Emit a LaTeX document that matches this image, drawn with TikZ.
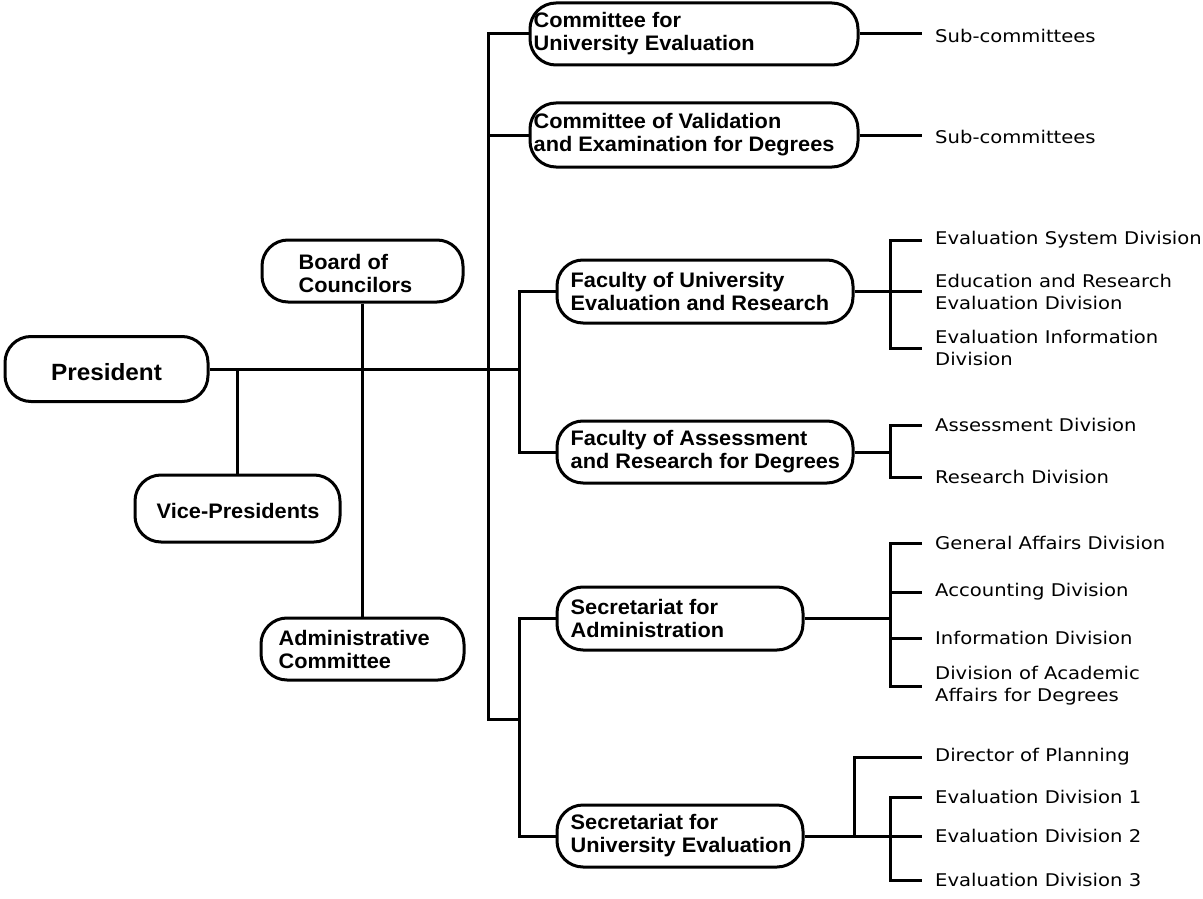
\documentclass[tikz,border=0pt]{standalone}
\usepackage{fontspec}
\newfontfamily\bfam[FakeStretch=1.035]{Liberation Sans Bold}
\newfontfamily\lfam[FakeStretch=1.12]{DejaVu Sans}
\tikzset{
  box/.style={draw, line width=3pt, rounded corners=26pt, inner sep=0pt},
  btext/.style={font=\bfam\fontsize{21}{23}\selectfont, align=left, inner sep=0pt, anchor=west},
  lab/.style={font=\lfam\fontsize{17.5}{22}\selectfont, align=left, inner sep=0pt, anchor=west},
  conn/.style={line width=3pt},
}
\begin{document}
\begin{tikzpicture}[x=1pt,y=-1pt]
\fill[white] (0,0) rectangle (1203,899);
\useasboundingbox (0,0) rectangle (1203,899);

% left boxes
\node[box, minimum width=203pt, minimum height=65pt] (pres) at (106.5,369) {};
\node[btext, font=\bfam\fontsize{23.5}{26}\selectfont, anchor=center] (presT) at ([yshift=-3pt]pres.center) {President};
\node[box, minimum width=201pt, minimum height=62pt] (bc) at (362.5,271) {};
\node[btext] (bcT) at ([xshift=38pt,yshift=-2pt]bc.west) {Board of\\Councilors};
\node[box, minimum width=205pt, minimum height=67pt] (vp) at (237.5,508.5) {};
\node[btext] (vpT) at ([xshift=23pt,yshift=-2pt]vp.west) {Vice-Presidents};
\node[box, minimum width=203pt, minimum height=62pt] (adm) at (362.5,649) {};
\node[btext] (admT) at ([xshift=19pt]adm.west) {Administrative\\Committee};

% middle boxes
\node[box, minimum width=328pt, minimum height=62pt] (cue) at (694,34) {};
\node[btext] (cueT) at ([xshift=5pt]cue.west) {Committee for\\University Evaluation};
\node[box, minimum width=328pt, minimum height=64pt] (cve) at (694,135) {};
\node[btext] (cveT) at ([xshift=5pt]cve.west) {Committee of Validation\\and Examination for Degrees};
\node[box, minimum width=296pt, minimum height=63pt] (fuer) at (705,291.5) {};
\node[btext] (fuerT) at ([xshift=15pt]fuer.west) {Faculty of University\\Evaluation and Research};
\node[box, minimum width=296pt, minimum height=62pt] (fard) at (705,452) {};
\node[btext] (fardT) at ([xshift=15pt]fard.west) {Faculty of Assessment\\and Research for Degrees};
\node[box, minimum width=246pt, minimum height=63pt] (sa) at (680,618.5) {};
\node[btext] (saT) at ([xshift=15pt]sa.west) {Secretariat for\\Administration};
\node[box, minimum width=246pt, minimum height=62pt] (sue) at (680,836) {};
\node[btext] (sueT) at ([xshift=15pt]sue.west) {Secretariat for\\University Evaluation};

% right labels
\node[lab] (s1) at (935,36) {Sub-committees};
\node[lab] (s2) at (935,137) {Sub-committees};
\node[lab] (l1) at (935,240) {Evaluation System Division};
\node[lab] (l2) at (935,291.5) {Education and Research\\Evaluation Division};
\node[lab] (l3) at (935,348) {Evaluation Information\\Division};
\node[lab] (a1) at (935,425) {Assessment Division};
\node[lab] (a2) at (935,477) {Research Division};
\node[lab] (g1) at (935,543) {General Affairs Division};
\node[lab] (g2) at (935,592) {Accounting Division};
\node[lab] (g3) at (935,638) {Information Division};
\node[lab] (g4) at (935,686) {Division of Academic\\Affairs for Degrees};
\node[lab] (d0) at (935,757) {Director of Planning};
\node[lab] (e1) at (935,797) {Evaluation Division 1};
\node[lab] (e2) at (935,836) {Evaluation Division 2};
\node[lab] (e3) at (935,880) {Evaluation Division 3};

% helper coordinates
\coordinate (j1) at (519,369);
\coordinate (b0) at (488,719);
\coordinate (j2) at (519,719);
\coordinate (xr) at (890,0);
\coordinate (xd) at (854,0);

% left connectors
\draw[conn] (pres.east) -- (j1);
\draw[conn] (vp.north) -- (vp.north |- pres.east);
\draw[conn] (bc.south) -- (adm.north);

% main bus
\draw[conn] (cue.west) -| (b0) -- (j2);
\draw[conn] (cve.west) -- (cve.west -| b0);
\draw[conn] (fuer.west) -| (j1) |- (fard.west);
\draw[conn] (sa.west) -| (j2) |- (sue.west);

% right connectors
\draw[conn] (cue.east) -- ([xshift=-13pt]cue.east -| s1.west);
\draw[conn] (cve.east) -- ([xshift=-13pt]cve.east -| s2.west);

\draw[conn] (fuer.east) -- (fuer.east -| xr);
\draw[conn] ([xshift=-13pt]l1.west) -| (l3.west -| xr) -- ([xshift=-13pt]l3.west);
\draw[conn] (l2.west -| xr) -- ([xshift=-13pt]l2.west);

\draw[conn] (fard.east) -- (fard.east -| xr);
\draw[conn] ([xshift=-13pt]a1.west) -| (a2.west -| xr) -- ([xshift=-13pt]a2.west);

\draw[conn] (sa.east) -- (sa.east -| xr);
\draw[conn] ([xshift=-13pt]g1.west) -| (g4.west -| xr) -- ([xshift=-13pt]g4.west);
\draw[conn] (g2.west -| xr) -- ([xshift=-13pt]g2.west);
\draw[conn] (g3.west -| xr) -- ([xshift=-13pt]g3.west);

\draw[conn] (sue.east) -- (sue.east -| xr);
\draw[conn] (sue.east -| xd) |- ([xshift=-13pt]d0.west);
\draw[conn] ([xshift=-13pt]e1.west) -| (e3.west -| xr) -- ([xshift=-13pt]e3.west);
\draw[conn] (e2.west -| xr) -- ([xshift=-13pt]e2.west);
\end{tikzpicture}
\end{document}
